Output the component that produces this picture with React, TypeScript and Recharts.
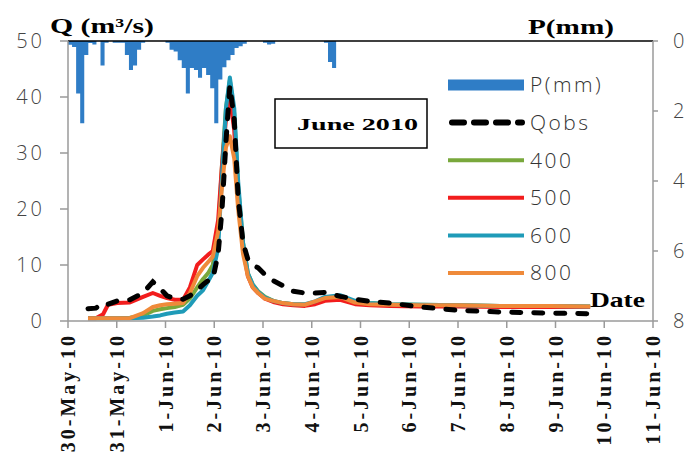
import React from 'react';
import { ComposedChart, Area, Line, XAxis, YAxis, ReferenceLine } from 'recharts';

// x axis: days since 30-May-10 00:00
const DATE_TICKS = [0, 1, 2, 3, 4, 5, 6, 7, 8, 9, 10, 11, 12];
const DATE_LABELS = [
  '30-May-10', '31-May-10', '1-Jun-10', '2-Jun-10', '3-Jun-10', '4-Jun-10', '5-Jun-10',
  '6-Jun-10', '7-Jun-10', '8-Jun-10', '9-Jun-10', '10-Jun-10', '11-Jun-10',
];
const Q_TICKS = [0, 10, 20, 30, 40, 50];
const P_TICKS = [0, 2, 4, 6, 8];

// rainfall, 2-hour steps from 30-May-10 00:00
const P_STEP_DAYS = 1 / 12;
const P_MM = [
  0.11, 0.17, 1.5, 2.35, 0.4, 0.06, 0.1, 0, 0.7, 0.05, 0, 0.05,
  0.05, 0.05, 0.4, 0.83, 0.7, 0.25, 0.05, 0, 0, 0, 0, 0,
  0.05, 0.25, 0.3, 0.55, 0.77, 1.5, 0.77, 0.83, 1.05, 0.77, 0.97, 1.35,
  2.35, 1.1, 0.75, 0.55, 0.4, 0.2, 0.15, 0.08, 0, 0, 0, 0,
  0.05, 0.1, 0.08, 0, 0, 0, 0, 0, 0, 0, 0, 0,
  0, 0, 0, 0.05, 0.6, 0.77, 0,
];

// discharge samples (days)
const FLOW_DAYS = [
  0.41, 0.57, 0.72, 0.82, 1.01, 1.27, 1.54, 1.74, 1.89, 2.03, 2.19, 2.36, 2.5, 2.65,
  2.77, 2.87, 2.97, 3.08, 3.16, 3.24, 3.32, 3.41, 3.49, 3.59, 3.69, 3.79, 3.9, 4.04,
  4.21, 4.41, 4.62, 4.86, 5.07, 5.27, 5.58, 5.89, 6.19, 6.61, 7.22, 8.04, 8.86, 9.89, 10.71,
];
const Q_OBS = [
  2.2, 2.3, 3.2, 3.0, 3.6, 3.8, 5.0, 7.0, 5.8, 4.5, 4.0, 3.9, 4.5, 5.5,
  6.5, 7.2, 7.5, 12, 20, 32, 42, 36, 22, 14, 11, 10, 9.5, 8.3,
  7.2, 6.3, 5.3, 5.0, 5.0, 5.1, 4.4, 3.9, 3.5, 3.2, 2.5, 1.9, 1.6, 1.4, 1.3,
];
const Q_400 = [
  0.5, 0.5, 0.5, 0.5, 0.5, 0.6, 1.0, 1.8, 2.1, 2.3, 2.5, 2.9, 4.0, 6.0,
  7.5, 8.5, 10, 16, 28, 38, 43, 37, 24, 14, 8.5, 6.5, 5.3, 4.3,
  3.6, 3.2, 3.0, 2.9, 3.3, 4.0, 4.3, 3.5, 3.2, 3.0, 2.9, 2.8, 2.7, 2.7, 2.6,
];
const Q_500 = [
  0.5, 0.5, 1.2, 2.9, 3.2, 3.3, 4.3, 5.0, 4.5, 4.1, 3.8, 3.8, 6.0, 10,
  11, 11.8, 12.5, 18, 28, 36, 40, 34, 22, 13, 8, 6, 5, 4.0,
  3.4, 3.0, 2.8, 2.7, 3.0, 3.6, 3.8, 3.0, 2.8, 2.7, 2.6, 2.6, 2.5, 2.5, 2.5,
];
const Q_600 = [
  0.5, 0.5, 0.5, 0.5, 0.5, 0.5, 0.6, 0.8, 1.0, 1.3, 1.5, 1.7, 2.8, 4.5,
  5.5, 7, 8.6, 13, 26, 38, 43.5, 38, 25, 14, 8.5, 6.5, 5.2, 4.2,
  3.6, 3.2, 3.0, 3.0, 3.5, 4.3, 4.6, 3.6, 3.2, 3.0, 2.9, 2.8, 2.7, 2.7, 2.6,
];
const Q_800 = [
  0.5, 0.5, 0.5, 0.5, 0.5, 0.5, 1.4, 2.5, 2.8, 3.0, 3.1, 3.2, 5.0, 8.0,
  9.5, 10.5, 11.5, 16, 24, 31, 33, 29, 20, 12, 8, 6, 5, 4.0,
  3.6, 3.2, 3.0, 2.9, 3.5, 4.1, 4.3, 3.3, 3.0, 2.9, 2.8, 2.8, 2.7, 2.7, 2.6,
];

const precipData = P_MM.map((p, i) => ({ d: i * P_STEP_DAYS, p }));
const flowData = FLOW_DAYS.map((d, i) => ({
  d,
  qobs: Q_OBS[i],
  q400: Q_400[i],
  q500: Q_500[i],
  q600: Q_600[i],
  q800: Q_800[i],
}));

const RAIN_COLOR = '#2f7dc6';
const MODEL_SERIES = [
  { key: 'q400', name: '400', color: '#79a83c' },
  { key: 'q500', name: '500', color: '#f21d1d' },
  { key: 'q600', name: '600', color: '#1f9bb8' },
  { key: 'q800', name: '800', color: '#ef8a3a' },
];
const QOBS_DASH = '9 13';

const SANS = '"Open Sans", "DejaVu Sans", sans-serif';
const SERIF = '"Liberation Serif", "DejaVu Serif", serif';
const tickStyle = { fill: '#444', fontSize: 20, fontFamily: SANS, fontWeight: 300, letterSpacing: 3 };

const DateTick = (props: any) => {
  const { x, y, payload } = props;
  const label = DATE_LABELS[DATE_TICKS.indexOf(payload.value)] ?? '';
  return (
    <g transform={`translate(${x},${y + 3}) rotate(-90)`}>
      <text
        x={0}
        y={0}
        dy="0.35em"
        textAnchor="end"
        fill="#111"
        fontFamily={SERIF}
        fontWeight="bold"
        fontSize={20}
        letterSpacing={3}
      >
        {label}
      </text>
    </g>
  );
};

const legendRows = [
  { name: 'P(mm)', kind: 'rain', color: RAIN_COLOR },
  { name: 'Qobs', kind: 'dash', color: '#000' },
  ...MODEL_SERIES.map((s) => ({ name: s.name, kind: 'line', color: s.color })),
];

export default function App() {
  return (
    <div style={{ position: 'relative', width: 696, height: 474, background: '#fff' }}>
      <style>{'body{margin:0}'}</style>
      <ComposedChart
        width={696}
        height={474}
        margin={{ top: 41, right: 0, bottom: 0, left: 0 }}
      >
        <XAxis
          dataKey="d"
          type="number"
          domain={[0, 12]}
          ticks={DATE_TICKS}
          interval={0}
          allowDataOverflow
          height={153}
          tickSize={7}
          tickMargin={2}
          axisLine={{ stroke: '#9a9a9a', strokeWidth: 1.5 }}
          tickLine={{ stroke: '#9a9a9a', strokeWidth: 1.5 }}
          tick={<DateTick />}
        />
        <YAxis
          yAxisId="q"
          domain={[0, 50]}
          ticks={Q_TICKS}
          width={68}
          tickSize={8}
          tickMargin={15}
          axisLine={{ stroke: '#9a9a9a', strokeWidth: 1.5 }}
          tickLine={{ stroke: '#9a9a9a', strokeWidth: 1.5 }}
          tick={tickStyle}
        />
        <YAxis
          yAxisId="p"
          orientation="right"
          reversed
          domain={[0, 8]}
          ticks={P_TICKS}
          width={43}
          tickSize={5}
          tickMargin={15}
          axisLine={{ stroke: '#9a9a9a', strokeWidth: 1.5 }}
          tickLine={{ stroke: '#9a9a9a', strokeWidth: 1.5 }}
          tick={{ ...tickStyle, textAnchor: 'start' }}
        />
        <Area
          yAxisId="p"
          data={precipData}
          dataKey="p"
          type="stepAfter"
          baseValue={0}
          stroke="none"
          fill={RAIN_COLOR}
          fillOpacity={1}
          isAnimationActive={false}
        />
        {MODEL_SERIES.map((s) => (
          <Line
            key={s.key}
            yAxisId="q"
            data={flowData}
            dataKey={s.key}
            type="linear"
            stroke={s.color}
            strokeWidth={4}
            strokeLinejoin="round"
            dot={false}
            isAnimationActive={false}
          />
        ))}
        <Line
          yAxisId="q"
          data={flowData}
          dataKey="qobs"
          type="linear"
          stroke="#000"
          strokeWidth={5}
          strokeDasharray={QOBS_DASH}
          strokeLinecap="round"
          dot={false}
          isAnimationActive={false}
        />
        <ReferenceLine yAxisId="q" y={50} stroke="#000" strokeWidth={1.5} />
      </ComposedChart>

      <svg
        width={696}
        height={474}
        style={{ position: 'absolute', left: 0, top: 0, pointerEvents: 'none' }}
      >
        <text x={50} y={33} fontFamily={SERIF} fontWeight="bold" fontSize={21}
          textLength={104} lengthAdjust="spacingAndGlyphs">
          Q (m³/s)
        </text>
        <text x={528} y={34} fontFamily={SERIF} fontWeight="bold" fontSize={21}
          textLength={86} lengthAdjust="spacingAndGlyphs">
          P(mm)
        </text>
        <text x={590} y={307} fontFamily={SERIF} fontWeight="bold" fontSize={21}
          textLength={55} lengthAdjust="spacingAndGlyphs">
          Date
        </text>
        <rect x={275} y={99} width={152} height={49} fill="#fff" stroke="#000" strokeWidth={1.5} />
        <text x={297} y={130} fontFamily={SERIF} fontWeight="bold" fontSize={17}
          textLength={121} lengthAdjust="spacingAndGlyphs">
          June 2010
        </text>
        {legendRows.map((r, i) => {
          const cy = 85 + i * 37.6;
          return (
            <g key={r.name}>
              {r.kind === 'rain' && (
                <rect x={448} y={cy - 5.5} width={76} height={11} fill={r.color} />
              )}
              {r.kind === 'dash' && (
                <line
                  x1={452} x2={522} y1={cy} y2={cy}
                  stroke={r.color} strokeWidth={6} strokeDasharray="12 10" strokeLinecap="round"
                />
              )}
              {r.kind === 'line' && (
                <line x1={448} x2={524} y1={cy} y2={cy} stroke={r.color} strokeWidth={4} />
              )}
              <text
                x={530}
                y={cy}
                dy="0.35em"
                fill="#333"
                fontFamily={SANS}
                fontWeight={300}
                fontSize={21}
                letterSpacing={2.5}
              >
                {r.name}
              </text>
            </g>
          );
        })}
      </svg>
    </div>
  );
}
